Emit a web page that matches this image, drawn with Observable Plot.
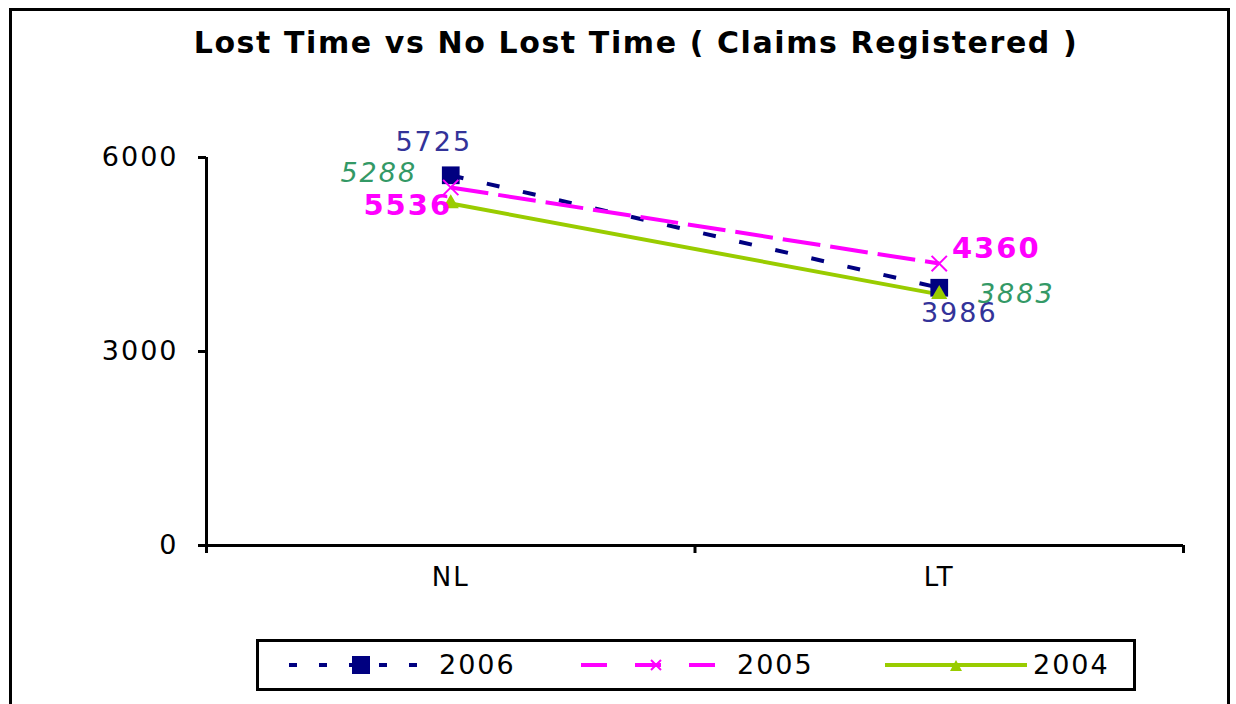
<!DOCTYPE html>
<html><head><meta charset="utf-8">
<script src="https://cdn.jsdelivr.net/npm/d3@7"></script>
<script src="https://cdn.jsdelivr.net/npm/@observablehq/plot@0.6"></script>
<style>
body{margin:0;background:#fff;}
#wrap{position:relative;width:1236px;height:704px;overflow:hidden;background:#fff;font-family:"DejaVu Sans",sans-serif;}
#frame{position:absolute;left:9px;top:8px;width:1221px;height:720px;border:3px solid #000;box-sizing:border-box;}
#title{position:absolute;left:0;width:1272px;top:25px;text-align:center;font-weight:bold;font-size:30px;letter-spacing:1.6px;color:#000;}
#chart{position:absolute;left:0;top:0;}
#chart svg text{letter-spacing:2px;}
#legend{position:absolute;left:256px;top:639px;width:880px;height:52px;border:3px solid #000;box-sizing:border-box;background:#fff;}
.li{position:absolute;top:0;height:46px;display:flex;align-items:center;font-size:26px;}
.li svg{display:block;}
</style></head>
<body><div id="wrap"><div id="frame"></div><div id="title"></div><div id="chart"></div><div id="legend"></div></div>
<script>
const title = "Lost Time vs No Lost Time ( Claims Registered )";
const categories = ["NL", "LT"];
const seriesNames = ["2006", "2005", "2004"];
const values2006 = [5725, 3986];
const values2005 = [5536, 4360];
const values2004 = [5288, 3883];
const yTicks = [0, 3000, 6000];

document.getElementById("title").textContent = title;

const valuesBySeries = {"2006": values2006, "2005": values2005, "2004": values2004};
const rows = seriesNames.flatMap(s => categories.map((c, i) => ({series: s, cat: c, pos: i + 0.5, value: valuesBySeries[s][i]})));
const bySeries = s => rows.filter(r => r.series === s);

const style = {
  "2006": {color: "#000080", label: "#333399", dash: "13,24", symbol: "square", r: 10, weight: "normal", italic: false},
  "2005": {color: "#FF00FF", label: "#FF00FF", dash: "38,10", symbol: "times", r: 7, weight: "bold", italic: false},
  "2004": {color: "#99CC00", label: "#339966", dash: null, symbol: "triangle", r: 6, weight: "normal", italic: true}
};
// label offsets per series per category (style only)
const offsets = {
  "2006": [[-17, -33], [20, 26]],
  "2005": [[-43, 18], [57, -15]],
  "2004": [[-72, -30], [77, 0]]
};

const marks = [
  Plot.ruleY([0], {stroke: "#000", strokeWidth: 3}),
  Plot.ruleX([0], {stroke: "#000", strokeWidth: 3}),
  Plot.axisY({ticks: yTicks, tickFormat: d3.format("d"), tickSize: 8, tickPadding: 20, strokeWidth: 3, fontSize: 27, fill: "#000", label: null}),
  Plot.axisX({ticks: [0, 1, 2], tickFormat: () => "", tickSize: 8, strokeWidth: 3, label: null}),
  Plot.axisX({ticks: categories.map((c, i) => i + 0.5), tickFormat: d => categories[Math.round(d - 0.5)], tickSize: 0, tickPadding: 22, fontSize: 26, fill: "#000", label: null})
];

for (const s of seriesNames) {
  const st = style[s];
  marks.push(Plot.line(bySeries(s), {x: "pos", y: "value", stroke: st.color, strokeWidth: 4, strokeDasharray: st.dash, strokeLinecap: "butt"}));
}
for (const s of seriesNames) {
  const st = style[s];
  if (st.symbol === "times") {
    marks.push(Plot.dot(bySeries(s), {x: "pos", y: "value", symbol: "times", r: st.r, stroke: st.color, strokeWidth: 2}));
  } else {
    marks.push(Plot.dot(bySeries(s), {x: "pos", y: "value", symbol: st.symbol, r: st.r, fill: st.color, stroke: "none"}));
  }
}
for (const s of seriesNames) {
  const st = style[s];
  categories.forEach((c, i) => {
    marks.push(Plot.text(bySeries(s).filter(r => r.cat === c), {
      x: "pos", y: "value", text: d => String(d.value),
      dx: offsets[s][i][0], dy: offsets[s][i][1],
      fill: st.label, fontSize: st.weight === "bold" ? 29 : 27, fontWeight: st.weight,
      fontStyle: st.italic ? "italic" : "normal"
    }));
  });
}

const chart = Plot.plot({
  width: 1236, height: 704,
  marginLeft: 206, marginRight: 53, marginTop: 157, marginBottom: 159,
  style: {background: "transparent", fontFamily: "DejaVu Sans, sans-serif", overflow: "visible"},
  x: {type: "linear", domain: [0, categories.length]},
  y: {domain: [0, 6000]},
  marks
});
document.getElementById("chart").appendChild(chart);

// legend
const legend = document.getElementById("legend");
const itemPos = {"2006": [30, 180], "2005": [322, 478], "2004": [626, 774]};
for (const s of seriesNames) {
  const st = style[s];
  const [sx, tx] = itemPos[s];
  const w = tx - sx - 6;
  const ns = "http://www.w3.org/2000/svg";
  const item = document.createElement("div");
  item.className = "li"; item.style.left = sx + "px";
  const svg = document.createElementNS(ns, "svg");
  svg.setAttribute("width", w); svg.setAttribute("height", 30);
  const line = document.createElementNS(ns, "line");
  line.setAttribute("x1", 0); line.setAttribute("x2", w); line.setAttribute("y1", 15); line.setAttribute("y2", 15);
  line.setAttribute("stroke", st.color); line.setAttribute("stroke-width", 4);
  if (st.dash) line.setAttribute("stroke-dasharray", s === "2006" ? "8,22" : "26,28");
  svg.appendChild(line);
  const cx = w / 2;
  if (st.symbol === "square") {
    const r = document.createElementNS(ns, "rect");
    r.setAttribute("x", cx - 9); r.setAttribute("y", 6); r.setAttribute("width", 18); r.setAttribute("height", 18); r.setAttribute("fill", st.color);
    svg.appendChild(r);
  } else if (st.symbol === "times") {
    const p = document.createElementNS(ns, "path");
    p.setAttribute("d", `M${cx-5},10L${cx+5},20M${cx-5},20L${cx+5},10`); p.setAttribute("stroke", st.color); p.setAttribute("stroke-width", 2);
    svg.appendChild(p);
  } else {
    const p = document.createElementNS(ns, "path");
    p.setAttribute("d", `M${cx},10L${cx+6},21L${cx-6},21Z`); p.setAttribute("fill", st.color);
    svg.appendChild(p);
  }
  item.appendChild(svg);
  const lab = document.createElement("div");
  lab.textContent = s; lab.style.position = "absolute"; lab.style.left = (tx - sx) + "px"; lab.style.top = "7px";
  lab.style.fontSize = "27px"; lab.style.letterSpacing = "2px";
  item.appendChild(lab);
  legend.appendChild(item);
}
</script></body></html>
